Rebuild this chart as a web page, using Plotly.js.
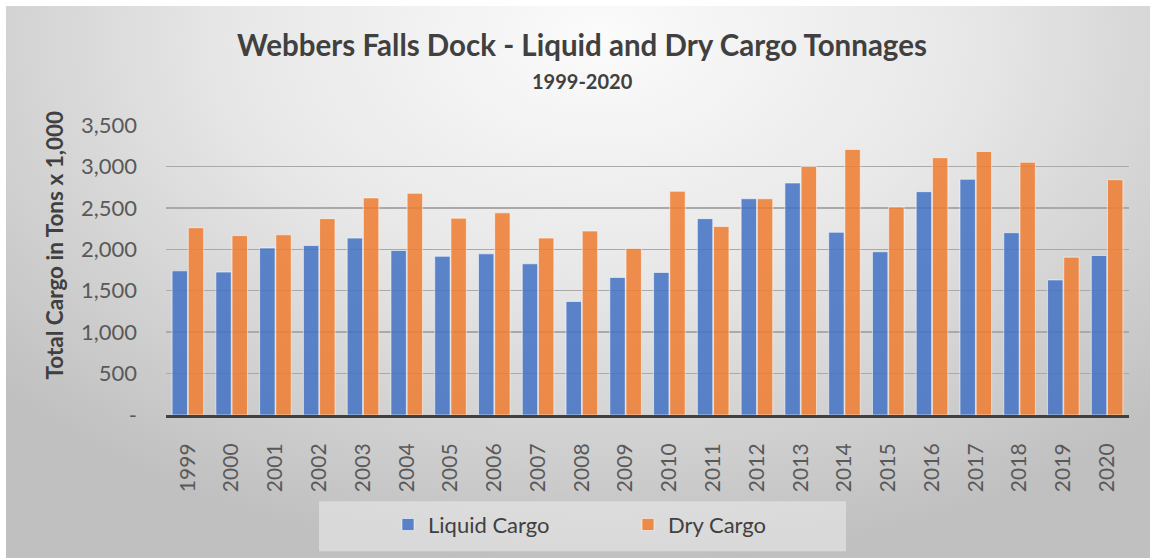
<!DOCTYPE html>
<html>
<head>
<meta charset="utf-8">
<script src="https://cdn.plot.ly/plotly-3.0.1.min.js"></script>
<style>
  html, body { margin: 0; padding: 0; background: #ffffff; }
  #wrap { position: relative; width: 1150px; height: 558px; overflow: hidden; }
  #bg { position: absolute; left: 6px; top: 6px; right: 0; bottom: 0;
        background: radial-gradient(ellipse 70% 95% at 52% 6%, #fbfbfb 0%, #e8e8e8 45%, #d2d2d2 75%, #c0c0c0 100%); }
  #chart { position: absolute; left: 0; top: 0; width: 1150px; height: 558px; }
</style>
</head>
<body>
<div id="wrap"><div id="bg"></div><div id="chart"></div></div>
<script>
const years = ['1999','2000','2001','2002','2003','2004','2005','2006','2007','2008','2009','2010','2011','2012','2013','2014','2015','2016','2017','2018','2019','2020'];
const liquidCargo = [1740,1725,2015,2045,2135,1985,1915,1945,1825,1370,1660,1720,2370,2610,2800,2205,1970,2695,2845,2200,1630,1925];
const dryCargo = [2260,2165,2175,2370,2620,2675,2375,2440,2135,2220,2010,2700,2275,2610,3000,3205,2510,3105,3180,3050,1905,2840];
const yTickVals = [0,500,1000,1500,2000,2500,3000,3500];
const yTickText = ['-','500','1,000','1,500','2,000','2,500','3,000','3,500'];

const FONT = 'Lato, "Open Sans", sans-serif';

const traces = [
  { type: 'bar', name: 'Liquid Cargo', x: years, y: liquidCargo,
    marker: { color: 'rgba(68,114,196,0.86)', line: { color: 'rgba(255,255,255,0.55)', width: 1 } },
    hoverinfo: 'x+y' },
  { type: 'bar', name: 'Dry Cargo', x: years, y: dryCargo,
    marker: { color: 'rgba(237,125,49,0.86)', line: { color: 'rgba(255,255,255,0.55)', width: 1 } },
    hoverinfo: 'x+y' }
];

const layout = {
  width: 1150, height: 558,
  margin: { l: 166, r: 21, t: 125, b: 137 },
  paper_bgcolor: 'rgba(0,0,0,0)',
  plot_bgcolor: 'rgba(0,0,0,0)',
  font: { family: FONT, color: '#595959' },
  barmode: 'group',
  bargap: 0.26,
  bargroupgap: 0.05,
  title: {
    text: '<b>Webbers Falls Dock - Liquid and Dry Cargo Tonnages</b>',
    font: { family: FONT, size: 29.5, color: '#404040' },
    x: 582/1150, xanchor: 'center', xref: 'container',
    y: 1 - 46/558, yanchor: 'middle'
  },
  annotations: [
    { text: '<b>1999-2020</b>', xref: 'paper', yref: 'paper',
      x: (582-166)/963, y: (421-80)/296, xanchor: 'center', yanchor: 'middle',
      showarrow: false, font: { family: FONT, size: 20, color: '#404040' } },
    { text: '<b>Total Cargo in Tons x 1,000</b>', xref: 'paper', yref: 'paper',
      x: (55-166)/963, y: (421-248)/296, xanchor: 'center', yanchor: 'middle',
      textangle: -90, showarrow: false, font: { family: FONT, size: 22.5, color: '#404040' } }
  ],
  xaxis: {
    type: 'category',
    tickangle: -90,
    tickfont: { family: FONT, size: 21, color: '#595959' },
    showline: true, linecolor: '#404040', linewidth: 3,
    ticks: '', ticklabelstandoff: 17,
    showgrid: false, fixedrange: true
  },
  yaxis: {
    range: [0, 3500],
    tickvals: yTickVals, ticktext: yTickText,
    tickfont: { family: FONT, size: 22, color: '#595959' },
    showgrid: true, gridcolor: '#a9a9a9', gridwidth: 1.5,
    zeroline: false, ticks: '', ticklabelstandoff: 28,
    showline: false, fixedrange: true
  },
  showlegend: true,
  legend: {
    orientation: 'h',
    x: (388-166)/963, xanchor: 'left',
    y: (421-533)/296, yanchor: 'middle',
    bgcolor: 'rgba(0,0,0,0)',
    font: { family: FONT, size: 22, color: '#404040' },
    entrywidth: 195, entrywidthmode: 'pixels',
    traceorder: 'normal'
  },
  shapes: [
    { type: 'rect', xref: 'paper', yref: 'paper', layer: 'below',
      x0: (319-166)/963, x1: (846-166)/963, y0: (421-560)/296, y1: (421-509)/296,
      fillcolor: 'rgba(236,236,236,0.55)', line: { width: 0 } }
  ]
};

Plotly.newPlot('chart', traces, layout, { displayModeBar: false, staticPlot: true });
</script>
</body>
</html>
